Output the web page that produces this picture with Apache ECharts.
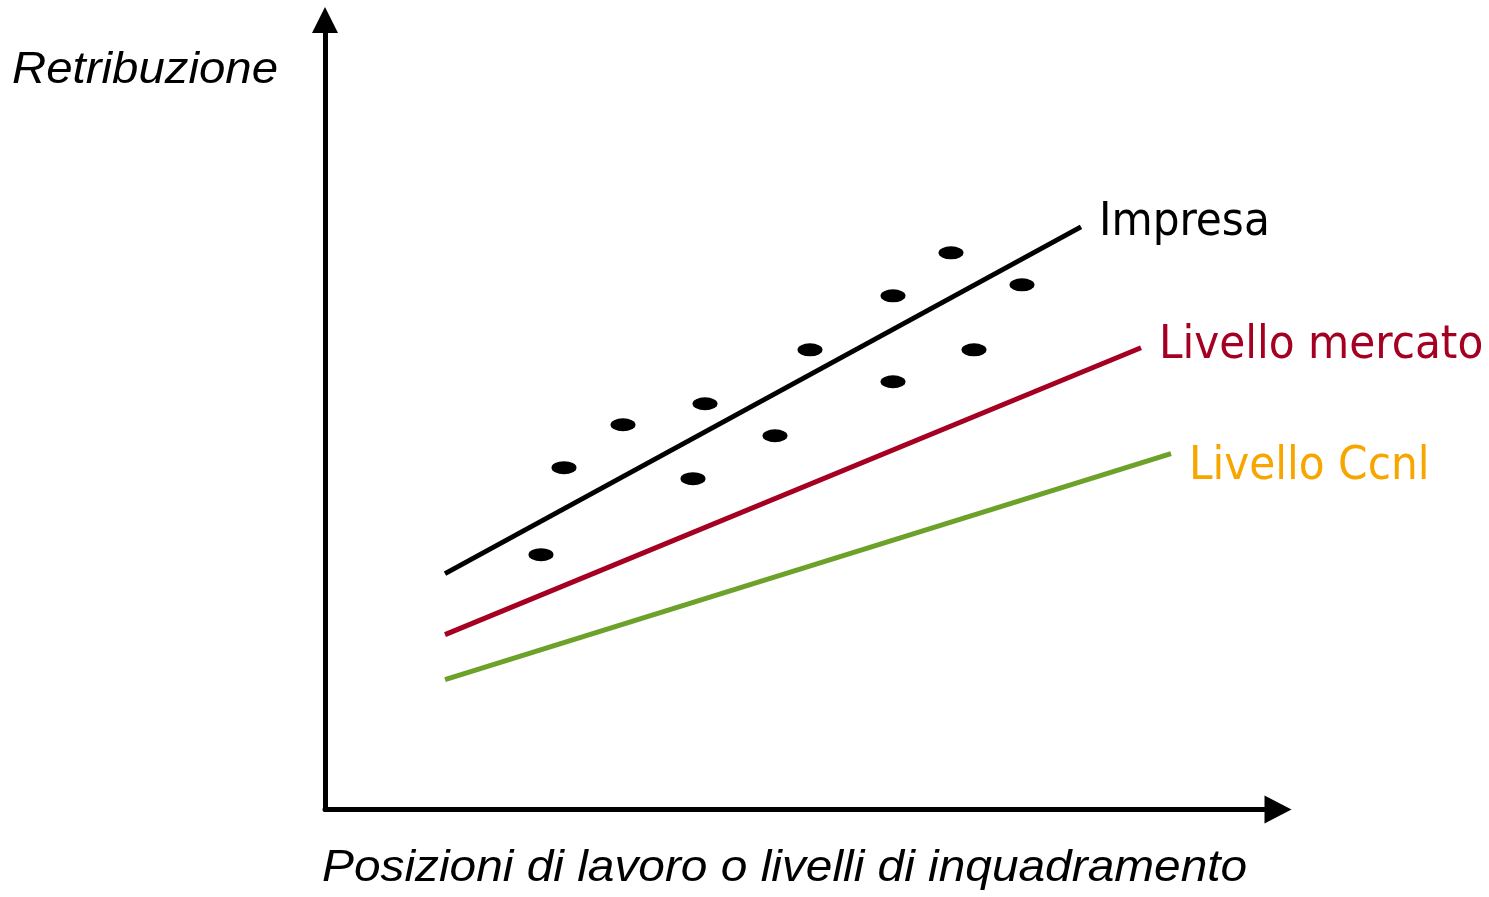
<!DOCTYPE html>
<html lang="it">
<head>
<meta charset="UTF-8">
<title>Retribuzione - Impresa, mercato, Ccnl</title>
<script src="https://cdn.jsdelivr.net/npm/echarts@6/dist/echarts.min.js"></script>
<style>
  html, body { margin: 0; padding: 0; background: #fff; }
</style>
</head>
<body>
<div id="main" style="width: 1489px;height: 897px"></div>
<script type="text/javascript">
  // valori (unita' arbitrarie, origine = incrocio degli assi)
  var impresa = [[120, 236], [756, 583]];
  var mercato = [[120, 175], [816, 462]];
  var ccnl = [[120, 130], [846, 356]];
  var puntiImpresa = [
    [216, 255], [239, 342], [298, 385], [368, 331], [380, 406], [450, 374],
    [485, 460], [568, 514], [568, 428], [626, 557], [649, 460], [697, 525]
  ];
  var titoloY = 'Retribuzione';
  var titoloX = 'Posizioni di lavoro o livelli di inquadramento';

  var myChart = echarts.init(document.getElementById('main'));

  var labelFont = '"DejaVu Sans Condensed", "DejaVu Sans", sans-serif';

  function retta(name, data, lineColor, textColor, dy) {
    return {
      name: name,
      type: 'line',
      data: data,
      symbol: 'none',
      silent: true,
      lineStyle: {color: lineColor, width: 5, cap: 'butt'},
      endLabel: {
        show: true,
        formatter: '{a}',
        color: textColor,
        fontFamily: labelFont,
        fontSize: 47,
        distance: 18,
        offset: [0, dy]
      }
    };
  }

  var option = {
    animation: false,
    backgroundColor: '#fff',
    grid: {left: 325, right: 211, top: 20, bottom: 87.5},
    xAxis: {
      type: 'value', min: 0, max: 953,
      axisLine: {
        show: true,
        symbol: ['none', 'triangle'],
        symbolSize: [28, 27],
        lineStyle: {color: '#000', width: 5}
      },
      axisTick: {show: false},
      axisLabel: {show: false},
      splitLine: {show: false}
    },
    yAxis: {
      type: 'value', min: 0, max: 790,
      axisLine: {
        show: true,
        symbol: ['none', 'triangle'],
        symbolSize: [26, 26],
        lineStyle: {color: '#000', width: 5}
      },
      axisTick: {show: false},
      axisLabel: {show: false},
      splitLine: {show: false}
    },
    graphic: [
      {
        type: 'text', x: 12, y: 71, scaleX: 1.077,
        style: {
          text: titoloY, fill: '#000',
          font: 'italic 44px "Liberation Sans", Arial, sans-serif',
          verticalAlign: 'middle'
        }
      },
      {
        type: 'text', x: 322, y: 869, scaleX: 1.087,
        style: {
          text: titoloX, fill: '#000',
          font: 'italic 44px "Liberation Sans", Arial, sans-serif',
          verticalAlign: 'middle'
        }
      }
    ],
    series: [
      retta('Impresa', impresa, '#000000', '#000000', -4),
      retta('Livello mercato', mercato, '#a50021', '#a50021', -2),
      retta('Livello Ccnl', ccnl, '#6ca12a', '#f7a600', 13),
      {
        name: 'punti',
        type: 'scatter',
        data: puntiImpresa,
        symbol: 'circle',
        symbolSize: [25, 13],
        itemStyle: {color: '#000', opacity: 1},
        silent: true
      }
    ]
  };
  myChart.setOption(option);
</script>
</body>
</html>
